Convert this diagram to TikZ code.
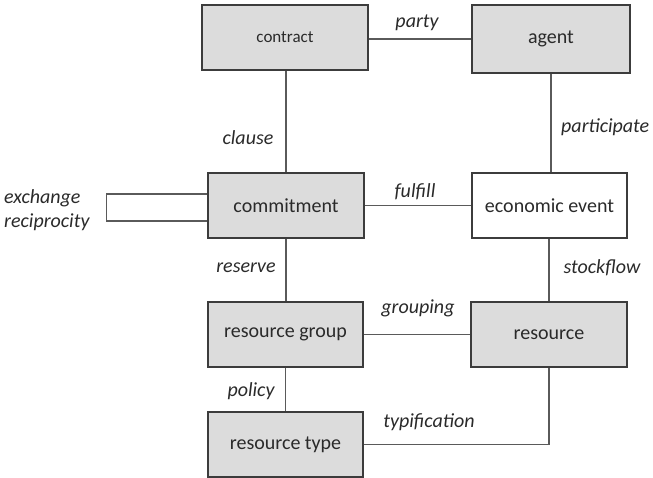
\documentclass[tikz,border=0pt]{standalone}
\usepackage{fontspec}
\setmainfont{Carlito}
\usetikzlibrary{calc}
\definecolor{boxfill}{HTML}{DCDCDC}
\definecolor{boxline}{HTML}{3C3C3C}
\definecolor{wire}{HTML}{5A5A5A}
\definecolor{ink}{HTML}{2A2A2A}
\tikzset{
  entity/.style={draw=boxline, line width=1.4pt, fill=boxfill, rectangle,
    minimum width=156pt, minimum height=65pt, inner sep=0pt, text=ink,
    font=\fontsize{20}{24}\selectfont},
  link/.style={draw=wire, line width=1.4pt},
  rel/.style={font=\fontsize{20}{24}\selectfont\itshape, text=ink, inner sep=0pt}
}
\begin{document}
\begin{tikzpicture}[x=1pt,y=-1pt]
\useasboundingbox (0,0) rectangle (653,477);
% entities
\node[entity, minimum width=166pt, font=\fontsize{17}{20}\selectfont] (contract) at (285,37.5) {contract};
\node[entity, minimum width=158pt, minimum height=68pt] (agent) at (551,39) {agent};
\node[entity] (commitment) at (286,205.5) {commitment};
\node[entity, fill=white, minimum width=155pt] (event) at (549.5,205.5) {economic event};
\node[entity, minimum width=155pt] (group) at (285.5,334.5) {resource group};
\node[entity] (resource) at (549,334.5) {resource};
\node[entity, minimum width=155pt] (rtype) at (285.5,444.5) {resource type};
% relationships
\draw[link] (agent.west -| contract.east) -- (agent.west);
\draw[link] (commitment.north |- contract.south) -- (commitment.north);
\draw[link] (agent.south) -- (agent.south |- event.north);
\draw[link] (commitment.east) -- (event.west);
\draw[link] ($(commitment.west)+(0,-11.5)$) -- ++(-101,0) -- ++(0,27) -- ++(101,0);
\draw[link] (commitment.south) -- (commitment.south |- group.north);
\draw[link] (resource.north |- event.south) -- (resource.north);
\draw[link] (group.east) -- (resource.west);
\draw[link] (group.south) -- (group.south |- rtype.north);
\draw[link] (rtype.east) -| (resource.south);
% relationship names
\node[rel] (lparty) at (417,23) {party};
\node[rel] (lclause) at (248,138) {clause};
\node[rel, anchor=west] (lpart) at (561,127) {participate};
\node[rel] (lfulfill) at (415,192) {fulfill};
\node[rel, anchor=west] (lexch) at (4,198) {exchange};
\node[rel, anchor=west] (lrecip) at (4,222) {reciprocity};
\node[rel] (lreserve) at (246,268) {reserve};
\node[rel] (lstock) at (602,268) {stockflow};
\node[rel] (lgroup) at (418,308) {grouping};
\node[rel] (lpolicy) at (251,391) {policy};
\node[rel] (ltypif) at (429,422) {typification};
\end{tikzpicture}
\end{document}
